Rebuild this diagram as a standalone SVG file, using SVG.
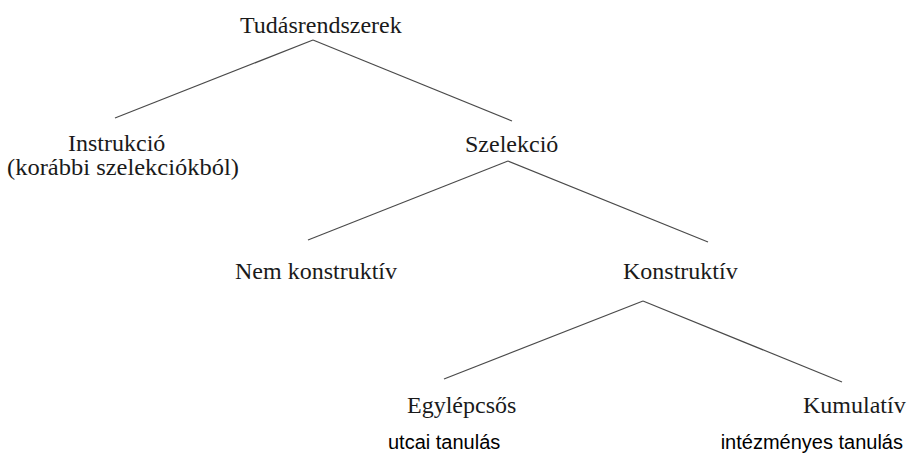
<svg xmlns="http://www.w3.org/2000/svg" width="907" height="457" viewBox="0 0 907 457">
<style>
.s{font-family:"Liberation Serif","Times New Roman",serif;font-size:24px;fill:#1a1a1a}
.a{font-family:"Liberation Sans",Arial,sans-serif;font-size:20px;fill:#000}
.c line{stroke:#4a4a4a;stroke-width:1.2}
</style>
<rect width="907" height="457" fill="#fff"/>
<g id="connectors" class="c">
<line x1="313" y1="40" x2="115" y2="118"/>
<line x1="313" y1="40" x2="512" y2="121"/>
<line x1="508" y1="161" x2="308" y2="240"/>
<line x1="508" y1="161" x2="708" y2="242"/>
<line x1="643" y1="301" x2="444" y2="379"/>
<line x1="643" y1="301" x2="842" y2="382"/>
</g>
<g id="n-tudas"><text class="s" x="240" y="33">Tudásrendszerek</text></g>
<g id="n-instrukcio"><text class="s" x="68" y="151">Instrukció</text><text class="s" x="7" y="175" textLength="232" lengthAdjust="spacingAndGlyphs">(korábbi szelekciókból)</text></g>
<g id="n-szelekcio"><text class="s" x="465" y="152">Szelekció</text></g>
<g id="n-nemkonstruktiv"><text class="s" x="235" y="279">Nem konstruktív</text></g>
<g id="n-konstruktiv"><text class="s" x="623" y="279">Konstruktív</text></g>
<g id="n-egylepcsos"><text class="s" x="407" y="413">Egylépcsős</text><text class="a" x="388" y="449">utcai tanulás</text></g>
<g id="n-kumulativ"><text class="s" x="803" y="413">Kumulatív</text><text class="a" x="903" y="449" text-anchor="end">intézményes tanulás</text></g>
</svg>
